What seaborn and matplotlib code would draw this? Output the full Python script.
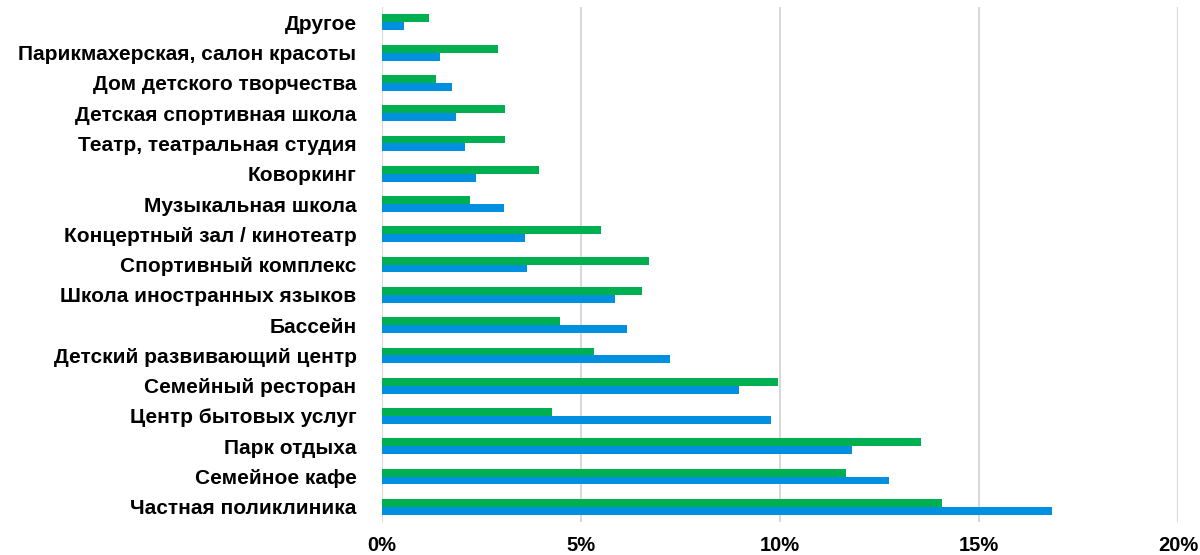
import matplotlib
matplotlib.use('Agg')
import matplotlib.pyplot as plt
import pandas as pd
import seaborn as sns
from matplotlib.ticker import PercentFormatter

# Данные (доли, %)
categories = [
    'Другое',
    'Парикмахерская, салон красоты',
    'Дом детского творчества',
    'Детская спортивная школа',
    'Театр, театральная студия',
    'Коворкинг',
    'Музыкальная школа',
    'Концертный зал / кинотеатр',
    'Спортивный комплекс',
    'Школа иностранных языков',
    'Бассейн',
    'Детский развивающий центр',
    'Семейный ресторан',
    'Центр бытовых услуг',
    'Парк отдыха',
    'Семейное кафе',
    'Частная поликлиника',
]
green_vals = [1.19, 2.92, 1.37, 3.10, 3.10, 3.95, 2.23, 5.50, 6.70, 6.54,
              4.47, 5.33, 9.95, 4.28, 13.55, 11.65, 14.07]
blue_vals = [0.56, 1.47, 1.76, 1.87, 2.10, 2.38, 3.07, 3.59, 3.65, 5.86,
             6.16, 7.24, 8.97, 9.78, 11.81, 12.73, 16.82]
series_names = ['Серия 1', 'Серия 2']
colors = ['#00B050', '#0090DF']

df = pd.DataFrame({
    'cat': categories * 2,
    'val': green_vals + blue_vals,
    'series': [series_names[0]] * len(categories) + [series_names[1]] * len(categories),
})

sns.set_theme(style='white')
plt.rcParams['font.family'] = ['Liberation Sans', 'DejaVu Sans']

fig = plt.figure(figsize=(12, 5.55), dpi=100)
ax = fig.add_axes([0.318, 0.0595, 0.664, 0.9275])

sns.barplot(data=df, y='cat', x='val', hue='series', order=categories,
            hue_order=series_names, palette=colors, saturation=1, width=0.52,
            linewidth=0, legend=False, ax=ax, orient='h')

ax.set_xlim(0, 20)
ax.set_xticks([0, 5, 10, 15, 20])
ax.xaxis.set_major_formatter(PercentFormatter(xmax=100, decimals=0))
ax.grid(axis='x', color='#D9D9D9', linewidth=1.5)
ax.set_axisbelow(True)
for s in ax.spines.values():
    s.set_visible(False)
ax.tick_params(axis='both', length=0)
ax.tick_params(axis='y', pad=18)
ax.tick_params(axis='x', pad=10)
ax.set_xlabel('')
ax.set_ylabel('')
for lab in ax.get_yticklabels():
    lab.set_fontweight('bold')
    lab.set_fontsize(15)
    lab.set_color('black')
for lab in ax.get_xticklabels():
    lab.set_fontweight('bold')
    lab.set_fontsize(14.5)
    lab.set_color('black')

fig.savefig('out.png', dpi=100)
